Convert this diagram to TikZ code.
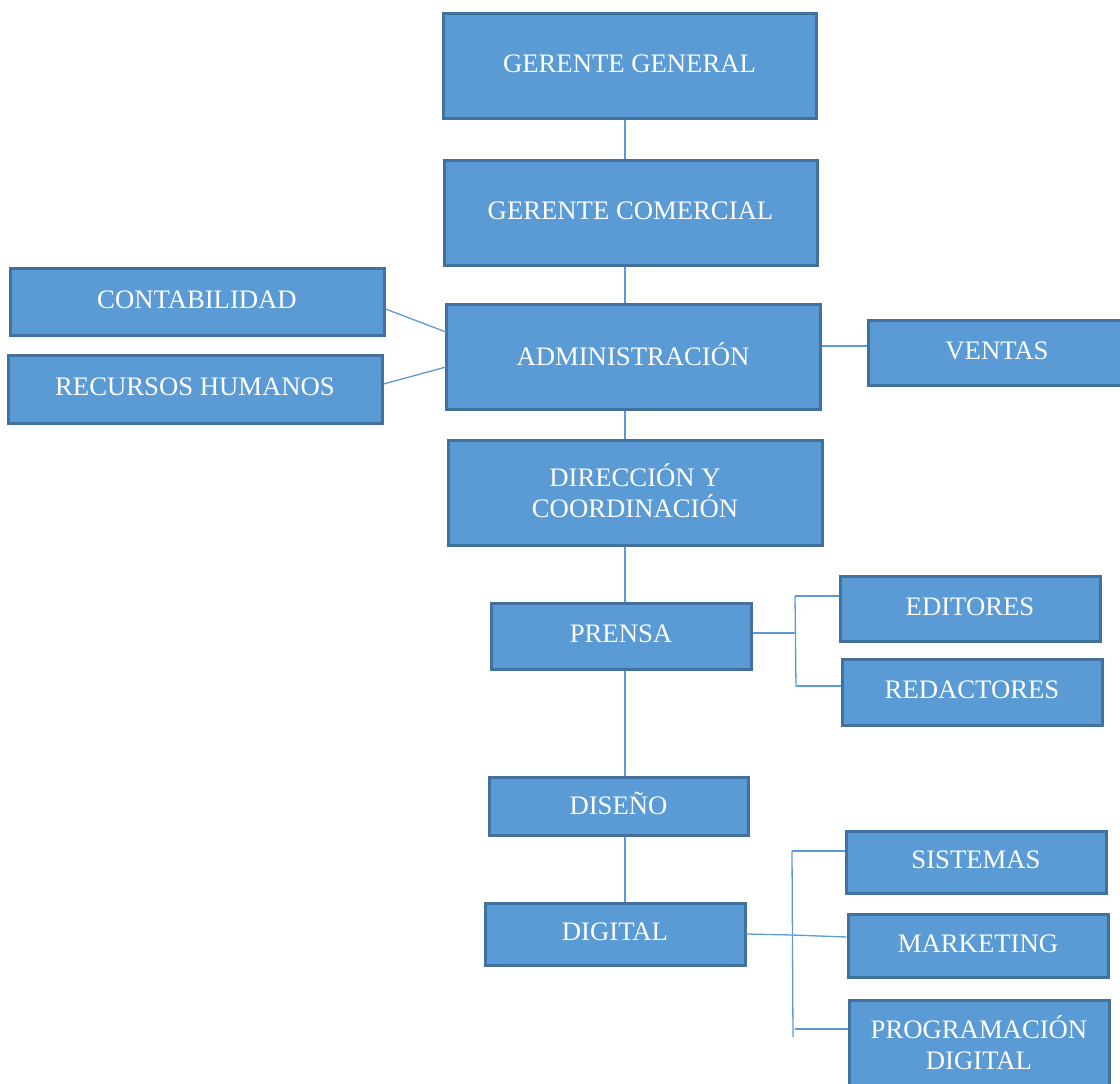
\documentclass[tikz,border=0pt]{standalone}
\usepackage{fontspec}
\setmainfont{Liberation Serif}
\definecolor{boxfill}{HTML}{5B9BD5}
\definecolor{boxline}{HTML}{41719C}
\definecolor{linkc}{HTML}{5B9BD5}
\begin{document}
\begin{tikzpicture}[x=1pt,y=-1pt,
  unit/.style={draw=boxline, fill=boxfill, line width=3pt, inner sep=0pt,
    text=white, align=center, text depth=4.5pt, font=\fontsize{26.7}{31}\selectfont},
  link/.style={draw=linkc, line width=1.3pt}]
\useasboundingbox (0,0) rectangle (1120,1084);
\clip (0,0) rectangle (1120,1084);
% boxes: (centre) with width x height
\newcommand{\unitbox}[6]{\node[unit, minimum width=#4pt, minimum height=#5pt] (#1) at (#2,#3) {#6};}
\unitbox{gg}{629.5}{65.5}{373}{105}{GERENTE GENERAL}
\unitbox{gc}{630.5}{212.5}{373}{105}{GERENTE COMERCIAL}
\unitbox{cont}{197}{301.5}{374}{67}{CONTABILIDAD}
\unitbox{rrhh}{195}{389}{374}{68}{RECURSOS HUMANOS}
\unitbox{adm}{633}{356.5}{374}{105}{ADMINISTRACIÓN}
\unitbox{ven}{997}{352.5}{258}{65}{VENTAS}
\unitbox{dir}{635}{492.5}{374}{105}{DIRECCIÓN Y\\COORDINACIÓN}
\unitbox{pren}{621}{636}{260}{66}{PRENSA}
\unitbox{edit}{970}{608.5}{260}{65}{EDITORES}
\unitbox{red}{972}{692}{260}{66}{REDACTORES}
\unitbox{dis}{618.5}{806}{259}{58}{DISEÑO}
\unitbox{dig}{615}{934}{260}{62}{DIGITAL}
\unitbox{sis}{976}{862}{260}{62}{SISTEMAS}
\unitbox{mkt}{978}{945.5}{260}{63}{MARKETING}
\unitbox{prog}{979}{1045}{260}{90}{PROGRAMACIÓN\\DIGITAL}
% main vertical spine
\coordinate (sp) at (625,0);
\draw[link] (gg.south -| sp) -- (gc.north -| sp);
\draw[link] (gc.south -| sp) -- (adm.north -| sp);
\draw[link] (adm.south -| sp) -- (dir.north -| sp);
\draw[link] (dir.south -| sp) -- (pren.north -| sp);
\draw[link] (pren.south -| sp) -- (dis.north -| sp);
\draw[link] (dis.south -| sp) -- (dig.north -| sp);
% side branches of administration
\coordinate (a1) at (446,332);
\coordinate (a2) at (446,367);
\draw[link] (cont.east |- 0,309) -- (a1);
\draw[link] (rrhh.east |- 0,384) -- (a2);
\coordinate (av) at (0,346);
\draw[link] (adm.east |- av) -- (ven.west |- av);
% press bracket
\coordinate (pt) at (795,596);
\coordinate (pbm) at (795,633);
\coordinate (pb) at (796,687);
\draw[link] (pren.east |- pbm) -- (pbm);
\draw[link] (pt) -- (pb);
\draw[link] (pt) -- (edit.west |- pt);
\draw[link] (797,686) -- (red.west |- 0,686);
% digital bracket
\coordinate (dt) at (792,851);
\coordinate (dm) at (792,935);
\coordinate (db) at (793,1037);
\draw[link] (dt) -- (db);
\draw[link] (dt) -- (sis.west |- dt);
\draw[link] (dig.east) -- (dm) -- (mkt.west |- 0,937);
\draw[link] (795,1029) -- (prog.west |- 0,1029);
\end{tikzpicture}
\end{document}
